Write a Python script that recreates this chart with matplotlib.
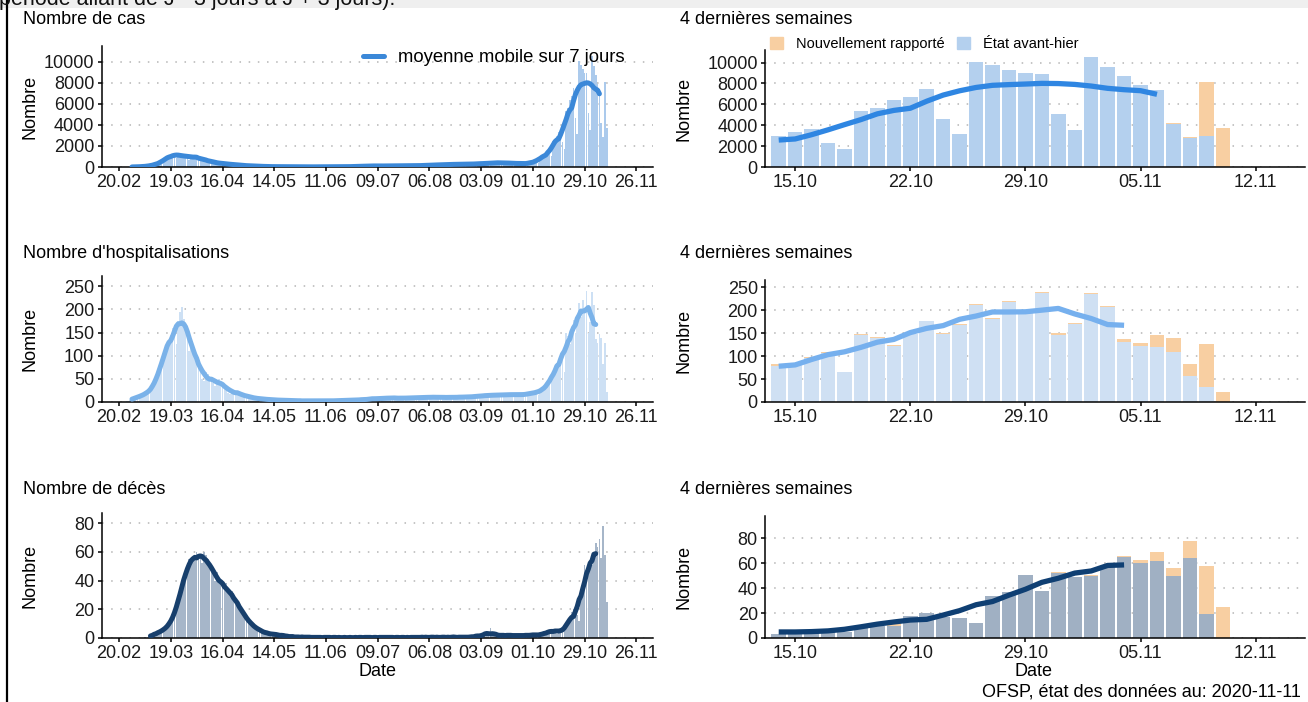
import numpy as np
import pandas as pd
import matplotlib
matplotlib.use("Agg")
import matplotlib.pyplot as plt
import matplotlib.dates as mdates
from matplotlib.lines import Line2D
from matplotlib.patches import Patch, Rectangle

plt.rcParams['font.family'] = ['Liberation Sans', 'DejaVu Sans']

# ---- données journalières ----
# cas : 24.02 -> 13.10
cases_feb = [1, 0, 2, 5, 10, 12]
cases_mar = [15, 25, 30, 40, 60, 75, 90, 110, 150, 200, 260, 320, 420, 480, 500, 800, 900, 1000, 1150, 1250,
             1000, 900, 1300, 1200, 1150, 1100, 1050, 850, 700, 1150, 1050]
cases_apr = [950, 1000, 900, 850, 600, 550, 750, 700, 650, 550, 400, 350, 300, 450, 400, 380, 350, 280, 200, 180,
             300, 280, 250, 220, 170, 120, 100, 180, 160, 140]
cases_may = [120, 80, 60, 100, 90, 80, 70, 60, 40, 30, 50, 45, 40, 35, 30, 25, 20, 30, 35, 30,
             25, 20, 15, 12, 20, 25, 20, 18, 15, 10, 12]
cases_jun = [10, 15, 20, 18, 20, 15, 10, 15, 20, 18, 22, 20, 15, 10, 20, 25, 30, 25, 30, 20,
             15, 35, 40, 45, 50, 40, 30, 60, 60, 70]
cases_jul = [80, 90, 100, 85, 60, 100, 120, 130, 110, 100, 70, 50, 110, 120, 130, 120, 110, 70, 50, 120,
             130, 140, 130, 120, 80, 60, 140, 150, 160, 150, 140]
cases_aug = [90, 70, 150, 180, 200, 190, 170, 120, 90, 220, 250, 270, 250, 230, 150, 110, 280, 300, 310, 290,
             270, 180, 130, 300, 320, 330, 310, 280, 170, 130, 330]
cases_sep = [380, 400, 390, 350, 200, 150, 420, 450, 480, 460, 420, 250, 200, 480, 500, 460, 440, 400, 220, 170,
             420, 430, 410, 380, 350, 200, 160, 380, 420, 400]
cases_oct = [550, 600, 500, 350, 900, 1000, 1100, 1300, 1500, 1200, 1000, 2500, 2350]
# 4 dernières semaines : 14.10 -> 10.11 (état avant-hier / nouvellement rapporté)
cases_old = [2935, 3350, 3600, 2330, 1720, 5360, 5615, 6410, 6730, 7465, 4625, 3160, 10080, 9730,
             9280, 8960, 8900, 5100, 3540, 10530, 9600, 8710, 7815, 7370, 4150, 2740, 2970, 0]
cases_new = [0, 0, 0, 0, 0, 0, 0, 0, 0, 0, 0, 0, 0, 0,
             0, 0, 0, 0, 0, 0, 0, 0, 50, 0, 40, 130, 5130, 3730]

# hospitalisations : 24.02 -> 13.10
hosp_feb = [2, 3, 5, 6, 8, 10]
hosp_mar = [9, 12, 14, 15, 16, 20, 22, 25, 30, 35, 45, 60, 70, 85, 95, 110, 120, 130, 145, 160,
            140, 125, 175, 195, 205, 180, 165, 150, 110, 130, 120]
hosp_apr = [110, 95, 85, 70, 50, 45, 65, 60, 55, 45, 40, 35, 45, 50, 45, 40, 35, 30, 20, 18,
            28, 25, 22, 20, 15, 12, 18, 16, 14, 12]
hosp_may = [10, 8, 6, 10, 9, 8, 7, 6, 5, 4, 7, 6, 5, 5, 4, 3, 3, 5, 4, 4,
            3, 3, 2, 2, 4, 3, 3, 2, 3, 2, 2]
hosp_jun = [2, 3, 3, 2, 3, 2, 1, 3, 3, 2, 3, 2, 2, 1, 3, 3, 4, 3, 3, 2,
            2, 4, 5, 4, 5, 4, 3, 3, 5, 6]
hosp_jul = [6, 5, 7, 4, 3, 8, 9, 10, 8, 7, 5, 4, 9, 10, 12, 10, 8, 6, 5, 9,
            11, 10, 9, 8, 6, 5, 10, 12, 11, 10, 9]
hosp_aug = [7, 6, 11, 12, 13, 11, 10, 7, 6, 12, 13, 12, 11, 10, 7, 6, 11, 12, 13, 11,
            10, 7, 6, 12, 14, 13, 12, 11, 8, 7, 13]
hosp_sep = [15, 16, 14, 13, 10, 9, 16, 18, 17, 16, 15, 11, 10, 17, 19, 18, 17, 16, 12, 11,
            18, 19, 18, 17, 16, 12, 11, 19, 20, 21]
hosp_oct = [22, 20, 18, 15, 25, 28, 30, 35, 40, 38, 45, 65, 68]
hosp_old = [79, 80, 96, 106, 65, 147, 139, 123, 148, 177, 148, 167, 211, 180,
            217, 198, 237, 147, 169, 235, 208, 131, 122, 119, 109, 57, 32, 0]
hosp_new = [3, 0, 2, 2, 0, 1, 3, 2, 0, 0, 2, 2, 2, 4,
            4, 0, 2, 3, 3, 3, 2, 6, 6, 28, 30, 26, 95, 21]

# décès : 05.03 -> 13.10
deaths_mar = [1, 0, 1, 1, 2, 2, 3, 4, 5, 4, 6, 6, 7, 9, 11, 14, 16, 20, 24, 30,
              36, 42, 46, 50, 55, 52, 56]
deaths_apr = [58, 60, 55, 57, 52, 60, 58, 55, 50, 48, 45, 40, 46, 42, 38, 36, 34, 38, 32, 30,
              33, 28, 26, 24, 22, 20, 18, 15, 14, 12]
deaths_may = [10, 9, 8, 8, 6, 5, 5, 4, 4, 3, 3, 3, 3, 2, 2, 3, 2, 2, 1, 1,
              2, 1, 1, 1, 0, 1, 1, 0, 1, 1, 0]
deaths_jun = [1, 0, 1, 0, 1, 0, 0, 1, 0, 1, 0, 0, 1, 0, 1, 0, 0, 1, 0, 0,
              1, 0, 0, 1, 0, 0, 1, 0, 0, 1]
deaths_jul = [0, 1, 0, 0, 1, 0, 1, 0, 0, 1, 0, 0, 1, 1, 0, 0, 1, 0, 0, 1,
              0, 1, 0, 0, 1, 0, 0, 1, 0, 1, 0]
deaths_aug = [1, 0, 0, 1, 1, 0, 1, 0, 0, 1, 1, 0, 1, 0, 0, 1, 1, 0, 1, 0,
              1, 1, 0, 0, 1, 1, 0, 1, 1, 0, 1]
deaths_sep = [2, 1, 3, 2, 1, 2, 4, 7, 3, 2, 1, 2, 1, 2, 3, 2, 2, 1, 1, 2,
              2, 3, 1, 2, 1, 1, 2, 2, 3, 2]
deaths_oct = [2, 1, 2, 3, 2, 3, 2, 4, 3, 5, 5, 6, 6]
deaths_old = [3, 4, 5, 5, 5, 8, 10, 10, 18, 20, 17, 16, 12, 34,
              37, 51, 38, 52, 49, 50, 57, 65, 60, 62, 50, 64, 19, 0]
deaths_new = [0, 0, 0, 0, 0, 0, 0, 2, 0, 0, 0, 0, 0, 0,
              0, 0, 0, 1, 0, 1, 0, 1, 3, 7, 6, 14, 39, 25]

x_ticks_long = ['2020-02-20', '2020-03-19', '2020-04-16', '2020-05-14', '2020-06-11', '2020-07-09',
                '2020-08-06', '2020-09-03', '2020-10-01', '2020-10-29', '2020-11-26']
x_ticks_short = ['2020-10-15', '2020-10-22', '2020-10-29', '2020-11-05', '2020-11-12']

W, H = 1308, 702
ORANGE = '#f8cfa2'
FS = 13


def build(early, old, new, start, ma_end):
    recent = np.add(old, new)
    values = np.concatenate([np.concatenate([np.array(m, dtype=float) for m in early]), recent])
    dates = pd.date_range(start, '2020-11-10')
    s = pd.Series(values, index=dates)
    # moyenne mobile centrée (J-3 à J+3)
    ma = s.rolling(7, center=True).mean()
    ma = ma[ma.index <= ma_end].dropna()
    return s, ma


def px_axes(left, top, right, bottom):
    return fig.add_axes([left / W, 1 - bottom / H, (right - left) / W, (bottom - top) / H])


def style(ax, yticks, ylim, xlim, xticks):
    for sp in ['top', 'right']:
        ax.spines[sp].set_visible(False)
    for sp in ['left', 'bottom']:
        ax.spines[sp].set_linewidth(1.1)
        ax.spines[sp].set_color('black')
    ax.set_ylim(*ylim)
    ax.set_yticks(yticks)
    ax.set_xlim(pd.Timestamp(xlim[0]), pd.Timestamp(xlim[1]))
    ax.set_xticks([pd.Timestamp(t) for t in xticks])
    ax.xaxis.set_major_formatter(mdates.DateFormatter('%d.%m'))
    ax.yaxis.grid(True, linestyle=(0, (1, 5)), color='#b5b5b5', linewidth=1.1)
    ax.set_axisbelow(True)
    ax.tick_params(length=3.2, width=1.1, color='black', labelsize=FS, pad=2, labelcolor='#1a1a1a')


fig = plt.figure(figsize=(W / 100, H / 100), dpi=100)

series = [
    dict(early=[cases_feb, cases_mar, cases_apr, cases_may, cases_jun, cases_jul, cases_aug, cases_sep, cases_oct],
         old=cases_old, new=cases_new, start='2020-02-24', ma_end='2020-11-06',
         bar='#abcaec', bar_r='#b4d0ee', line='#3b88d8', line_r='#2f86e2',
         yticks=[0, 2000, 4000, 6000, 8000, 10000], ylim=(0, 11500), ylim_r=(0, 11200),
         title='Nombre de cas', rows=(46, 167), rows_r=(50, 167)),
    dict(early=[hosp_feb, hosp_mar, hosp_apr, hosp_may, hosp_jun, hosp_jul, hosp_aug, hosp_sep, hosp_oct],
         old=hosp_old, new=hosp_new, start='2020-02-24', ma_end='2020-11-04',
         bar='#cde0f4', bar_r='#cfe0f3', line='#7ab2e9', line_r='#76b0ee',
         yticks=[0, 50, 100, 150, 200, 250], ylim=(0, 272), ylim_r=(0, 266),
         title="Nombre d'hospitalisations", rows=(276, 402), rows_r=(280, 402)),
    dict(early=[deaths_mar, deaths_apr, deaths_may, deaths_jun, deaths_jul, deaths_aug, deaths_sep, deaths_oct],
         old=deaths_old, new=deaths_new, start='2020-03-05', ma_end='2020-11-04',
         bar='#a6b6c9', bar_r='#a0b0c3', line='#173f6c', line_r='#0f3f73',
         yticks=[0, 20, 40, 60, 80], ylim=(0, 87), ylim_r=(0, 98), yticks_r=[0, 20, 40, 60, 80],
         title='Nombre de décès', rows=(513, 638), rows_r=(516, 638)),
]
title_y = [19, 254, 490]

recent_dates = pd.date_range('2020-10-14', '2020-11-10')

for i, d in enumerate(series):
    s, ma = build(d['early'], d['old'], d['new'], d['start'], d['ma_end'])

    # panneau de gauche : toute la période
    ax = px_axes(101.5, d['rows'][0], 653, d['rows'][1])
    ax.bar(s.index, s.values, width=0.88, color=d['bar'], linewidth=0)
    ax.plot(ma.index, ma.values, color=d['line'], lw=3.6, solid_capstyle='round', zorder=3,
            label='moyenne mobile sur 7 jours')
    style(ax, d['yticks'], d['ylim'], ('2020-02-10 12:00', '2020-12-05'), x_ticks_long)
    if i == 0:
        ax.legend(loc='center left', bbox_to_anchor=(363 / W, 1 - 58 / H), bbox_transform=fig.transFigure,
                  frameon=False, fontsize=13.3, borderpad=0, borderaxespad=0, handlelength=1.15,
                  handletextpad=0.75)
    fig.text(30 / W, 1 - ((d['rows'][0] + d['rows'][1]) / 2) / H, 'Nombre', rotation=90,
             ha='center', va='center', fontsize=FS)

    # panneau de droite : 4 dernières semaines
    axr = px_axes(765, d['rows_r'][0], 1305, d['rows_r'][1])
    axr.bar(recent_dates, d['old'], width=0.88, color=d['bar_r'], linewidth=0, label='État avant-hier')
    axr.bar(recent_dates, d['new'], bottom=d['old'], width=0.88, color=ORANGE, linewidth=0,
            label='Nouvellement rapporté')
    ma_r = ma[ma.index >= recent_dates[0]]
    axr.plot(ma_r.index, ma_r.values, color=d['line_r'], lw=3.8, solid_capstyle='butt', zorder=3)
    style(axr, d.get('yticks_r', d['yticks']), d['ylim_r'], ('2020-10-13 04:00', '2020-11-15'), x_ticks_short)
    if i == 0:
        handles = [Patch(color=ORANGE), Patch(color=d['bar_r'])]
        axr.legend(handles, ['Nouvellement rapporté', 'État avant-hier'], ncol=2, loc='center left',
                   bbox_to_anchor=(770 / W, 1 - 44 / H), bbox_transform=fig.transFigure, frameon=False,
                   fontsize=10.5, borderpad=0, borderaxespad=0, handlelength=0.9, handleheight=0.9,
                   handletextpad=0.9, columnspacing=0.8)
    fig.text(684 / W, 1 - ((d['rows_r'][0] + d['rows_r'][1]) / 2) / H, 'Nombre', rotation=90,
             ha='center', va='center', fontsize=FS)

    # titres
    fig.text(23 / W, 1 - title_y[i] / H, d['title'], ha='left', va='center', fontsize=13)
    fig.text(680 / W, 1 - title_y[i] / H, '4 dernières semaines', ha='left', va='center', fontsize=13)

fig.text(377 / W, 1 - 671 / H, 'Date', ha='center', va='center', fontsize=FS)
fig.text(1033 / W, 1 - 671 / H, 'Date', ha='center', va='center', fontsize=FS)
fig.text(1301 / W, 1 - 692 / H, 'OFSP, état des données au: 2020-11-11', ha='right', va='center', fontsize=FS)

# bandeau gris coupé en haut + trait noir à gauche
fig.patches.append(Rectangle((0, 1 - 7.5 / H), 1, 7.5 / H, transform=fig.transFigure,
                             facecolor='#efefef', edgecolor='none', zorder=0))
fig.text(-1 / W, 1 - 4.5 / H, 'période allant de J - 3 jours à J + 3 jours).', ha='left', va='baseline',
         fontsize=15.5, color='#111111')
fig.add_artist(Line2D([7 / W, 7 / W], [0, 1], color='black', lw=1.6, transform=fig.transFigure))

fig.savefig('out.png', dpi=100)
